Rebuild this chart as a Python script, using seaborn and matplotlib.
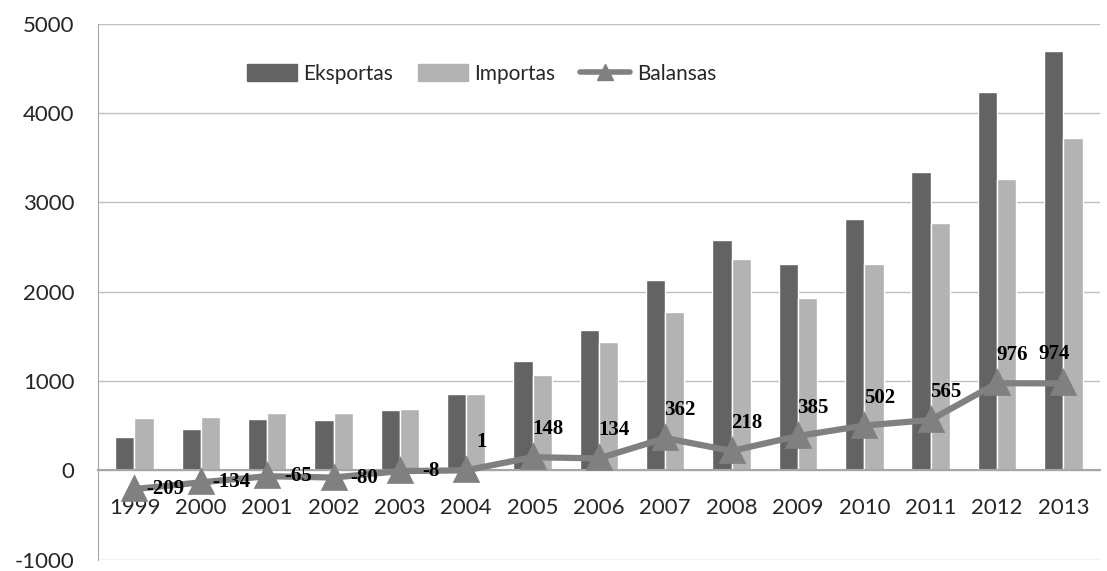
import matplotlib
matplotlib.use("Agg")
import matplotlib.pyplot as plt
import seaborn as sns
import pandas as pd
from matplotlib.patches import Patch
from matplotlib.lines import Line2D

years = ["1999", "2000", "2001", "2002", "2003", "2004", "2005", "2006",
         "2007", "2008", "2009", "2010", "2011", "2012", "2013"]
eksportas = [375, 460, 580, 560, 680, 860, 1220, 1570, 2130, 2580, 2310, 2810, 3340, 4240, 4700]
importas = [584, 594, 645, 640, 688, 859, 1072, 1436, 1768, 2362, 1925, 2308, 2775, 3264, 3726]
balansas = [-209, -134, -65, -80, -8, 1, 148, 134, 362, 218, 385, 502, 565, 976, 974]
series_names = ["Eksportas", "Importas", "Balansas"]
yticks = [-1000, 0, 1000, 2000, 3000, 4000, 5000]

sns.set_style("white")
plt.rcParams["font.family"] = ["Lato", "DejaVu Sans"]

c_exp, c_imp, c_bal = "#636363", "#b3b3b3", "#808080"
axis_c = "#a6a6a6"

df = pd.DataFrame({
    "year": years * 2,
    "value": eksportas + importas,
    "series": [series_names[0]] * len(years) + [series_names[1]] * len(years),
})

fig = plt.figure(figsize=(11.07, 5.71), dpi=100)
ax = fig.add_axes([0.0885, 0.0193, 0.905, 0.939])

sns.barplot(data=df, x="year", y="value", hue="series", order=years,
            palette=[c_exp, c_imp], width=0.58, gap=0, saturation=1,
            ax=ax, legend=False, zorder=2)

bal_df = pd.DataFrame({"year": years, "value": balansas})
sns.pointplot(data=bal_df, x="year", y="value", order=years, color=c_bal,
              markers="^", markersize=14, linewidth=4.5, ax=ax, zorder=4)

n = len(balansas)
for i, v in enumerate(balansas):
    if v <= 0:
        off = (31, 0)
    elif i == n - 1:
        off = (-9, 29)
    else:
        off = (15, 28)
    ax.annotate(str(v), xy=(i, v), xytext=off, textcoords="offset pixels",
                ha="center", va="center", fontsize=15, fontweight="bold",
                family=["Liberation Serif"], color="black", zorder=5)

ax.set_ylim(-1003, 5000)
ax.set_xlim(-0.55, len(years) - 0.45)
ax.set_yticks(yticks)
ax.set_yticklabels([str(t) for t in yticks], fontsize=16)
ax.yaxis.grid(True, color="#bfbfbf", linewidth=1, zorder=0)
ax.set_axisbelow(True)
ax.set_xlabel("")
ax.set_ylabel("")

for s in ["top", "right"]:
    ax.spines[s].set_visible(False)
ax.spines["left"].set_color(axis_c)
ax.spines["bottom"].set_position(("data", 0))
ax.spines["bottom"].set_color(axis_c)
ax.spines["bottom"].set_linewidth(1.5)
ax.spines["bottom"].set_zorder(3)

ax.set_xticks(range(len(years)))
ax.set_xticklabels(years, fontsize=16)
ax.set_xticks([i - 0.5 for i in range(len(years) + 1)], minor=True)
ax.tick_params(axis="x", which="major", length=0, pad=20)
ax.tick_params(axis="x", which="minor", length=6, color=axis_c, direction="out")
ax.tick_params(axis="y", length=0, pad=17)

handles = [Patch(color=c_exp), Patch(color=c_imp),
           Line2D([0], [0], color=c_bal, lw=4, marker="^", markersize=12)]
ax.legend(handles, series_names, loc="upper left", bbox_to_anchor=(0.13, 0.96),
          ncol=3, frameon=False, fontsize=15, handlelength=2.4,
          handleheight=0.9, columnspacing=1.2, handletextpad=0.3)

fig.savefig("out.png", dpi=100)
